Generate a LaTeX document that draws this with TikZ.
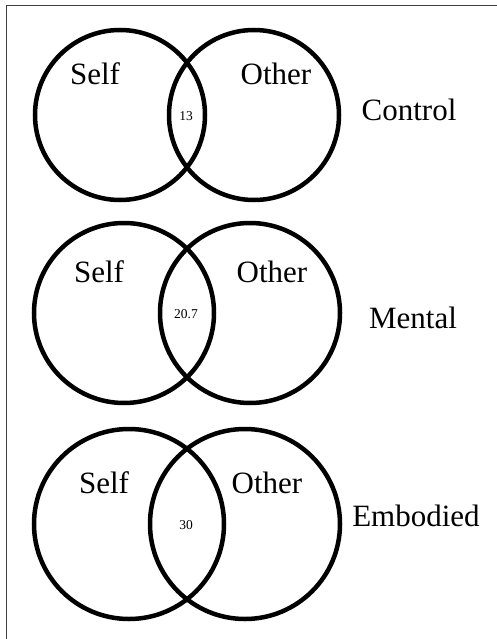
\documentclass[tikz,border=0pt]{standalone}
\usepackage{fontspec}
\setmainfont{Liberation Serif}
\usetikzlibrary{positioning}

\tikzset{
  venn/.style={circle, draw=black, line width=4.5pt, inner sep=0pt},
  setname/.style={font=\fontsize{31}{36}\selectfont, inner sep=0pt},
  overlap/.style={font=\fontsize{13.5}{15}\selectfont, inner sep=0pt},
}

\begin{document}
\begin{tikzpicture}[x=1pt,y=-1pt]
        \useasboundingbox (0,0) rectangle (497,639);
        \draw[line width=1pt, black!75] (6,639) -- (6,6) -- (497,6); % frame
        % edit here: number / centre y / radius / half gap / overlap / condition
        \foreach \i/\cy/\r/\d/\num/\cx/\cdy/\cond in {1/115/85/67/13/409/-5/Control,
                2/313/90/63/20.7/413/5/Mental,
                3/524/95/58/30/416/-8/Embodied}
        {
        \node[venn, minimum size=2*\r] (self\i) at (187-\d,\cy) {};
        \node[venn, minimum size=2*\r] (other\i) at (187+\d,\cy) {};
        \node[setname] (selflbl\i) at (187-\d-25,\cy-41) {Self};
        \node[setname] (otherlbl\i) at (187+\d+22,\cy-41) {Other};
        \node[overlap] (num\i) at (186,\cy+1) {\num};
        \node[setname] (cond\i) at (\cx,\cy+\cdy) {\cond};
        }
\end{tikzpicture}
\end{document}
